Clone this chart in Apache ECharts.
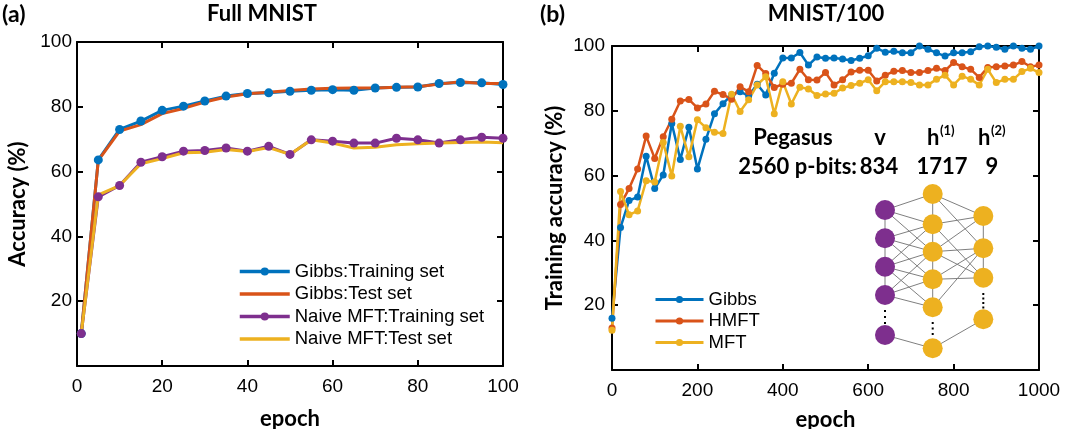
<!DOCTYPE html>
<html>
<head>
<meta charset="utf-8">
<script src="https://cdn.jsdelivr.net/npm/echarts@6/dist/echarts.min.js"></script>
<style>
  html, body { margin: 0; padding: 0; background: #fff; }
  #chart { width: 1065px; height: 429px; }
</style>
</head>
<body>
<div id="chart"></div>
<script>
// (a) Full MNIST
var fullEpochs = [1, 5, 10, 15, 20, 25, 30, 35, 40, 45, 50, 55, 60, 65, 70, 75, 80, 85, 90, 95, 100]
var gibbsTrain = [10, 63.6, 73.0, 75.6, 78.9, 80.2, 81.8, 83.3, 84.1, 84.3, 84.8, 85.1, 85.3, 85.1, 85.8, 86.0, 86.1, 87.2, 87.5, 87.4, 86.9]
var gibbsTest = [10, 63.5, 72.5, 74.5, 77.9, 79.5, 81.5, 83.0, 84.0, 84.5, 85.0, 85.5, 85.7, 85.8, 85.8, 86.0, 86.2, 87.0, 87.7, 87.2, 87.2]
var naiveTrain = [10, 52.2, 55.7, 62.9, 64.6, 66.3, 66.5, 67.3, 66.3, 67.8, 65.3, 69.8, 69.4, 68.8, 68.8, 70.3, 69.8, 68.8, 69.8, 70.6, 70.3]
var naiveTest = [10, 52.8, 55.7, 62.4, 64.0, 65.8, 66.0, 66.8, 66.2, 67.4, 65.3, 69.8, 68.8, 67.3, 67.5, 68.3, 68.6, 68.8, 69.0, 69.1, 68.9]

// (b) MNIST/100
var smallEpochs = [0, 20, 40, 60, 80, 100, 120, 140, 160, 180, 200, 220, 240, 260, 280, 300, 320, 340, 360, 380,
  400, 420, 440, 460, 480, 500, 520, 540, 560, 580, 600, 620, 640, 660, 680, 700, 720, 740, 760, 780,
  800, 820, 840, 860, 880, 900, 920, 940, 960, 980, 1000]
var gibbsAcc = [16, 44, 52.3, 53.4, 66, 56, 60.2, 76.1, 65, 74.9, 62, 71.2, 79.1, 82.2, 84.9, 85.9, 84.6, 88.2, 84.9, 91.6,
  96.3, 96.3, 98, 94.1, 96.6, 96.2, 96.3, 96, 95.5, 96.2, 97, 99.3, 98.1, 98.4, 97.9, 97.9, 100, 99, 97.9, 96.9,
  97.9, 97.9, 98.2, 99.8, 100, 99.6, 99, 100, 99.3, 99, 100]
var hmftAcc = [13, 51.1, 56, 62, 72.2, 65.3, 72, 77.4, 83, 83.5, 80.9, 82.1, 86, 85, 83.6, 87.4, 85.9, 94, 91.5, 87.2,
  88.2, 88.5, 92.8, 89.6, 89.5, 91.8, 88, 89.6, 92, 92.5, 92.5, 89.2, 91, 92.2, 92.4, 91.8, 91.8, 92.4, 93.1, 92.4,
  94.9, 93.6, 92.8, 90.3, 93.4, 93.6, 93.8, 94.1, 95.2, 93.6, 94.1]
var mftAcc = [12.3, 55.1, 47.9, 49.1, 58.4, 58, 70.2, 59.9, 75.2, 65.8, 77.2, 74.8, 73.4, 73, 85.1, 79.8, 83.4, 88, 90.5, 79.1,
  89, 82.1, 87.3, 86.7, 84.7, 85.2, 85.4, 87, 87.8, 88.5, 89.6, 86.2, 89, 89, 89, 88.7, 88, 88, 89.7, 91,
  88, 90.7, 89.7, 88, 92.8, 88.7, 89.7, 89.7, 92.1, 93.1, 91.8]

var fullTicks = [0, 20, 40, 60, 80, 100]
var smallTicks = [0, 200, 400, 600, 800, 1000]
var accTicks = [20, 40, 60, 80, 100]

var BLUE = '#0072BD', ORANGE = '#D95319', YELLOW = '#EDB120', PURPLE = '#7E2F8E'
var CAL = 'Lato, "Open Sans", sans-serif'
var ARIAL = '"Liberation Sans", Arial, sans-serif'
// plain line icon for series drawn without markers
var LINE_ICON = 'path://M0,0 L50,0 L50,3.5 L0,3.5 Z'

function zip(xs, ys) {
  return xs.map(function (x, i) { return [x, ys[i]] })
}

function tickFormatter(list) {
  return function (v) { return list.indexOf(v) >= 0 ? String(v) : '' }
}

function axis(o) {
  var a = {
    type: 'value',
    gridIndex: o.grid,
    position: o.position,
    min: o.min,
    max: o.max,
    interval: o.interval,
    axisLine: { show: true, onZero: false, lineStyle: { color: '#000', width: 2 } },
    axisTick: { show: true, inside: true, length: 6, lineStyle: { color: '#000', width: 2 } },
    splitLine: { show: false },
    axisLabel: {
      show: !!o.ticks,
      color: '#000',
      fontFamily: ARIAL,
      fontSize: 19,
      margin: o.margin || 8,
      formatter: o.ticks ? tickFormatter(o.ticks) : null
    }
  }
  if (o.name) {
    a.name = o.name
    a.nameLocation = 'middle'
    a.nameGap = o.nameGap
    a.nameTextStyle = { fontFamily: CAL, fontWeight: 'bold', fontSize: 22, color: '#000' }
  }
  return a
}

function lineSeries(name, xi, yi, data, color, width, marker) {
  return {
    name: name,
    type: 'line',
    xAxisIndex: xi,
    yAxisIndex: yi,
    data: data,
    symbol: marker ? 'circle' : 'none',
    symbolSize: marker || 0,
    showSymbol: !!marker,
    lineStyle: { color: color, width: width },
    itemStyle: { color: color },
    emphasis: { disabled: true },
    z: 3
  }
}

// network sketch in panel (b)
var netCols = [
  { x: 885, ys: [210, 238.3, 266.7, 295, 335], color: PURPLE, chain: 4, dots: [311, 317, 323] },
  { x: 932.7, ys: [194, 224.3, 251.7, 279.3, 307.3, 348.3], color: YELLOW, chain: 5, dots: [323, 328.5, 334] },
  { x: 983.3, ys: [216, 248.3, 277.7, 319.3], color: YELLOW, chain: 3, dots: [294, 298.5, 303, 307.5] }
]
var netEdges = [
  [0, 0, 1, 0], [0, 0, 1, 1], [0, 0, 1, 2],
  [0, 1, 1, 1], [0, 1, 1, 2], [0, 1, 1, 3],
  [0, 2, 1, 1], [0, 2, 1, 2], [0, 2, 1, 3], [0, 2, 1, 4],
  [0, 3, 1, 2], [0, 3, 1, 3], [0, 3, 1, 4],
  [0, 4, 1, 5],
  [1, 0, 2, 0], [1, 0, 2, 1],
  [1, 1, 2, 0], [1, 1, 2, 2],
  [1, 2, 2, 0], [1, 2, 2, 1], [1, 2, 2, 2],
  [1, 3, 2, 1], [1, 3, 2, 2],
  [1, 4, 2, 1],
  [1, 5, 2, 3]
]

function buildGraphic() {
  var g = []
  var edgeStyle = { stroke: '#7f7f7f', lineWidth: 1 }
  netEdges.forEach(function (e) {
    var a = netCols[e[0]], b = netCols[e[2]]
    g.push({ type: 'line', shape: { x1: a.x, y1: a.ys[e[1]], x2: b.x, y2: b.ys[e[3]] }, style: edgeStyle, z: 10 })
  })
  netCols.forEach(function (c) {
    g.push({ type: 'line', shape: { x1: c.x, y1: c.ys[0], x2: c.x, y2: c.ys[c.chain - 1] }, style: edgeStyle, z: 10 })
    c.ys.forEach(function (y) {
      g.push({ type: 'circle', shape: { cx: c.x, cy: y, r: 10 }, style: { fill: c.color }, z: 11 })
    })
    c.dots.forEach(function (y) {
      g.push({ type: 'rect', shape: { x: c.x - 1, y: y - 1, width: 2, height: 2 }, style: { fill: '#000' }, z: 11 })
    })
  })

  function txt(t, x, y, size, align, font) {
    g.push({
      type: 'text', x: x, y: y, z: 12,
      style: { text: t, font: 'bold ' + size + 'px ' + (font || CAL), fill: '#000', align: align || 'center', verticalAlign: 'middle' }
    })
  }
  // panel labels and titles
  txt('(a)', 2, 15, 23, 'left')
  txt('Full MNIST', 262, 14, 22)
  txt('(b)', 540, 15, 23, 'left')
  txt('MNIST/100', 826, 14, 22)
  // hardware text
  txt('Pegasus', 793, 138, 22)
  txt('v', 880, 138, 22)
  txt('h', 927, 138, 22, 'left')
  txt('(1)', 940, 131, 13, 'left')
  txt('h', 978, 138, 22, 'left')
  txt('(2)', 991, 131, 13, 'left')
  txt('2560 p-bits:', 857, 167, 22, 'right')
  txt('834', 879, 167, 22)
  txt('1717', 942, 167, 22)
  txt('9', 992, 167, 22)
  return g
}

var chart = echarts.init(document.getElementById('chart'))
chart.setOption({
  animation: false,
  backgroundColor: '#fff',
  grid: [
    { left: 77, top: 42, width: 426, height: 324, outerBoundsMode: 'none', containLabel: false },
    { left: 612, top: 46, width: 427, height: 324, outerBoundsMode: 'none', containLabel: false }
  ],
  xAxis: [
    axis({ grid: 0, position: 'bottom', min: 0, max: 100, interval: 20, ticks: fullTicks, margin: 11, name: 'epoch', nameGap: 42 }),
    axis({ grid: 0, position: 'top', min: 0, max: 100, interval: 20 }),
    axis({ grid: 1, position: 'bottom', min: 0, max: 1000, interval: 200, ticks: smallTicks, margin: 11, name: 'epoch', nameGap: 39 }),
    axis({ grid: 1, position: 'top', min: 0, max: 1000, interval: 200 })
  ],
  yAxis: [
    axis({ grid: 0, position: 'left', min: 0, max: 100, interval: 20, ticks: accTicks, margin: 5, name: 'Accuracy (%)', nameGap: 48 }),
    axis({ grid: 0, position: 'right', min: 0, max: 100, interval: 20 }),
    axis({ grid: 1, position: 'left', min: 0, max: 100, interval: 20, ticks: accTicks, margin: 7, name: 'Training accuracy (%)', nameGap: 46 }),
    axis({ grid: 1, position: 'right', min: 0, max: 100, interval: 20 })
  ],
  legend: [
    {
      data: [
        { name: 'Gibbs:Training set' },
        { name: 'Gibbs:Test set', icon: LINE_ICON },
        { name: 'Naive MFT:Training set' },
        { name: 'Naive MFT:Test set', icon: LINE_ICON }
      ],
      orient: 'vertical', left: 233, top: 257, itemWidth: 50, itemHeight: 10, itemGap: 3.5,
      selectedMode: false,
      lineStyle: { width: 3.5 },
      textStyle: { fontFamily: ARIAL, fontSize: 18.5, color: '#000', lineHeight: 19 }
    },
    {
      data: ['Gibbs', 'HMFT', 'MFT'],
      orient: 'vertical', left: 649, top: 285, itemWidth: 48, itemHeight: 9, itemGap: 2.5,
      selectedMode: false,
      lineStyle: { width: 3 },
      textStyle: { fontFamily: ARIAL, fontSize: 18.5, color: '#000', lineHeight: 19 }
    }
  ],
  series: [
    lineSeries('Gibbs:Training set', 0, 0, zip(fullEpochs, gibbsTrain), BLUE, 3, 9),
    lineSeries('Gibbs:Test set', 0, 0, zip(fullEpochs, gibbsTest), ORANGE, 3, 0),
    lineSeries('Naive MFT:Training set', 0, 0, zip(fullEpochs, naiveTrain), PURPLE, 3, 9),
    lineSeries('Naive MFT:Test set', 0, 0, zip(fullEpochs, naiveTest), YELLOW, 3, 0),
    lineSeries('Gibbs', 2, 2, zip(smallEpochs, gibbsAcc), BLUE, 2.5, 7),
    lineSeries('HMFT', 2, 2, zip(smallEpochs, hmftAcc), ORANGE, 2.5, 7),
    lineSeries('MFT', 2, 2, zip(smallEpochs, mftAcc), YELLOW, 2.5, 7)
  ],
  graphic: buildGraphic()
})
</script>
</body>
</html>
